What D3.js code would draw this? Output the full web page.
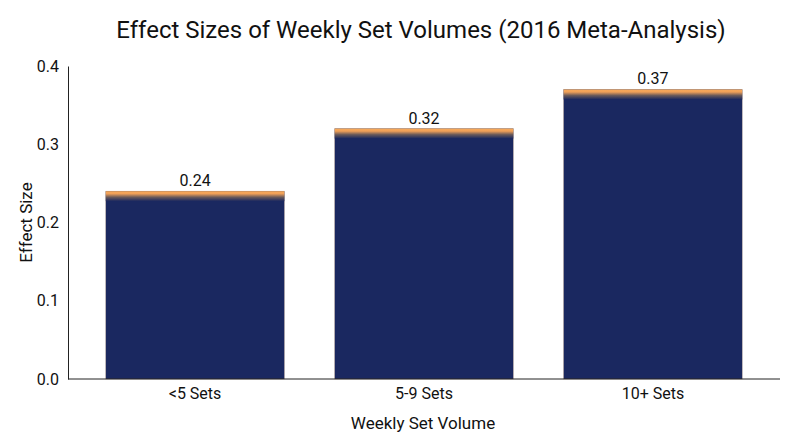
<!DOCTYPE html>
<html>
<head>
<meta charset="utf-8">
<script src="https://cdn.jsdelivr.net/npm/d3@7"></script>
<style>
  body { margin: 0; background: #fff; }
  text { font-family: Roboto, "Noto Sans", sans-serif; fill: #111; }
</style>
</head>
<body>
<div id="chart"></div>
<script>
// data
const categories = ["<5 Sets", "5-9 Sets", "10+ Sets"];
const effectSizes = [0.24, 0.32, 0.37];
const yTicks = [0.0, 0.1, 0.2, 0.3, 0.4];

const width = 800, height = 447;
const margin = {top: 66, right: 20, bottom: 68, left: 68};

const svg = d3.select("#chart").append("svg")
    .attr("width", width).attr("height", height);

const defs = svg.append("defs");
const grad = defs.append("linearGradient")
    .attr("id", "topglow").attr("x1", 0).attr("y1", 0).attr("x2", 0).attr("y2", 1);
grad.append("stop").attr("offset", "0%").attr("stop-color", "#f6a95a");
grad.append("stop").attr("offset", "25%").attr("stop-color", "#f0a058");
grad.append("stop").attr("offset", "60%").attr("stop-color", "#6a5a5a");
grad.append("stop").attr("offset", "100%").attr("stop-color", "#1a2860");

const x = d3.scaleBand()
    .domain(categories)
    .range([margin.left, width - margin.right])
    .paddingInner(0.22)
    .paddingOuter(0.165);

const y = d3.scaleLinear()
    .domain([0, 0.4])
    .range([height - margin.bottom, margin.top]);

// bars
const bars = svg.append("g").selectAll("g")
    .data(effectSizes)
    .join("g");

bars.append("rect")
    .attr("x", (d, i) => x(categories[i]))
    .attr("y", d => y(d))
    .attr("width", x.bandwidth())
    .attr("height", d => y(0) - y(d))
    .attr("fill", "#1a2860")
    .attr("stroke", "#8a5a3a")
    .attr("stroke-opacity", 0.35)
    .attr("stroke-width", 0.6);

bars.append("rect")
    .attr("x", (d, i) => x(categories[i]))
    .attr("y", d => y(d))
    .attr("width", x.bandwidth())
    .attr("height", 10)
    .attr("fill", "url(#topglow)");

bars.append("text")
    .attr("x", (d, i) => x(categories[i]) + x.bandwidth() / 2)
    .attr("y", d => y(d) - 5)
    .attr("text-anchor", "middle")
    .attr("font-size", 16)
    .text(d => d.toFixed(2));

// axes
const xAxis = svg.append("g")
    .attr("transform", `translate(0,${y(0)})`)
    .call(d3.axisBottom(x).tickSize(0).tickPadding(9));
xAxis.select(".domain").attr("stroke", "#222").attr("d", `M${margin.left},0H${width - margin.right}`);
xAxis.selectAll("text").attr("font-size", 16).attr("fill", "#111");

const yAxis = svg.append("g")
    .attr("transform", `translate(${margin.left},0)`)
    .call(d3.axisLeft(y).tickValues(yTicks).tickFormat(d3.format(".1f")).tickSize(0).tickPadding(9));
yAxis.select(".domain").attr("stroke", "#222");
yAxis.selectAll("text").attr("font-size", 16).attr("fill", "#111");

// labels
svg.append("text")
    .attr("x", (margin.left + width - margin.right) / 2 - 3)
    .attr("y", 38)
    .attr("text-anchor", "middle")
    .attr("font-size", 24)
    .text("Effect Sizes of Weekly Set Volumes (2016 Meta-Analysis)");

svg.append("text")
    .attr("x", (margin.left + width - margin.right) / 2 - 1)
    .attr("y", 429)
    .attr("text-anchor", "middle")
    .attr("font-size", 17)
    .text("Weekly Set Volume");

svg.append("text")
    .attr("transform", `translate(32,${(margin.top + height - margin.bottom) / 2}) rotate(-90)`)
    .attr("text-anchor", "middle")
    .attr("font-size", 17)
    .text("Effect Size");
</script>
</body>
</html>
